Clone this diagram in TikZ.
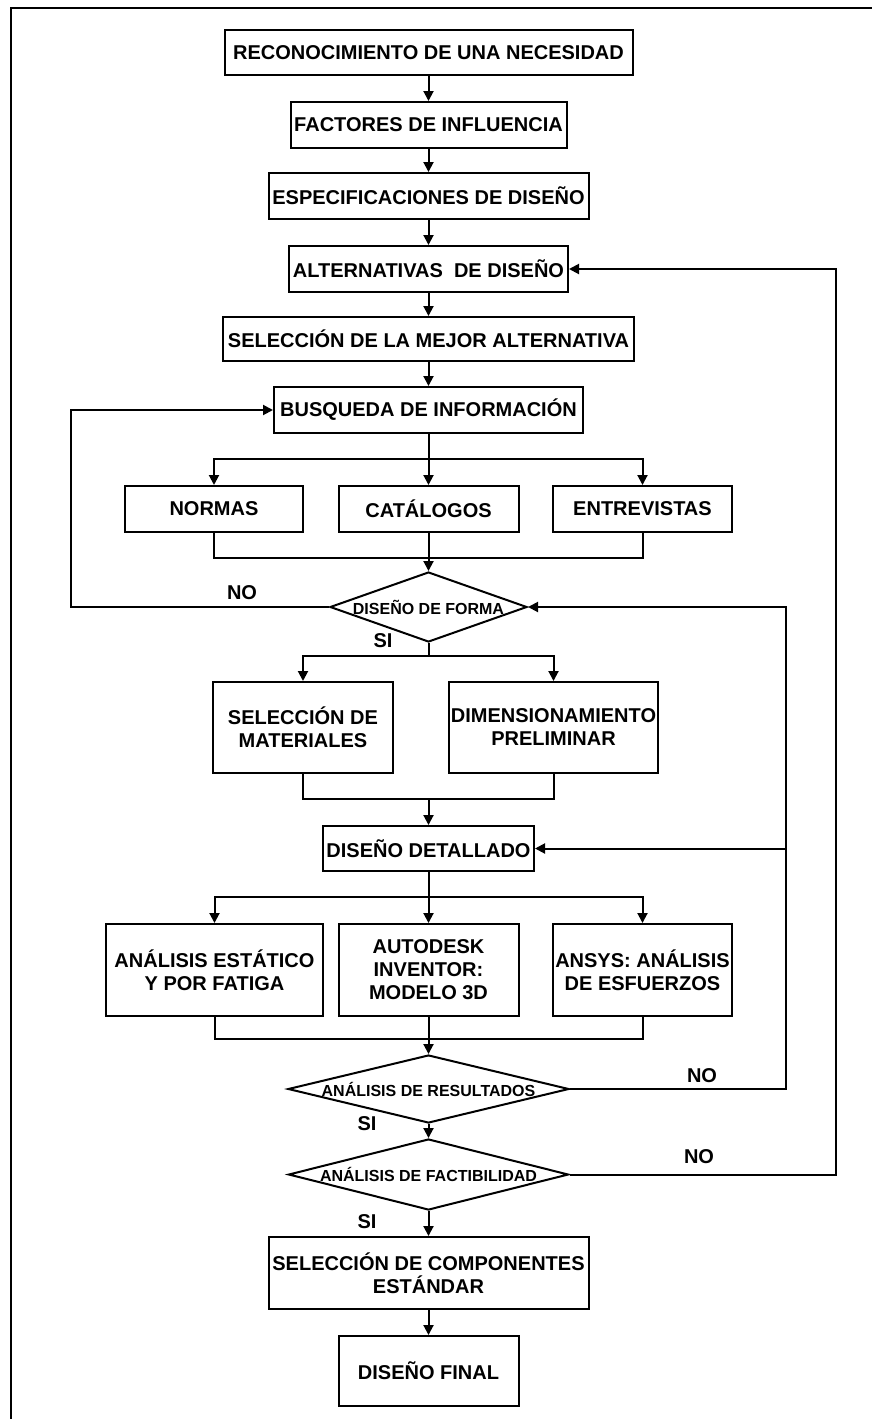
\documentclass[tikz,border=0pt]{standalone}
\usepackage{fontspec}
\setmainfont{Liberation Sans}
\usetikzlibrary{arrows.meta,shapes.geometric}
\begin{document}
\begin{tikzpicture}[x=0.5pt,y=-0.5pt,
  box/.style={draw, line width=1pt, inner sep=0pt, align=center, font=\bfseries\fontsize{10}{11.5}\selectfont},
  dia/.style={draw, diamond, line width=1pt, inner sep=0pt, font=\bfseries\fontsize{8}{9}\selectfont},
  lbl/.style={inner sep=0pt, font=\bfseries\fontsize{10}{11.5}\selectfont},
  arr/.style={line width=1pt, -{Triangle[length=5pt,width=5pt]}},
  ln/.style={line width=1pt}]
\useasboundingbox (0,0) rectangle (872,1419);
% frame
\draw[line width=1.3pt] (11,1419) -- (11,8) -- (872,8);
% main column
\node[box, minimum width=204pt, minimum height=22.5pt] (rec) at (428.5,52.5) {RECONOCIMIENTO DE UNA NECESIDAD};
\node[box, minimum width=138pt, minimum height=23pt] (fact) at (428.5,125) {FACTORES DE INFLUENCIA};
\node[box, minimum width=160pt, minimum height=23pt] (esp) at (428.5,196) {ESPECIFICACIONES DE DISEÑO};
\node[box, minimum width=139.5pt, minimum height=23pt] (alt) at (428.5,269) {ALTERNATIVAS\ \ DE DISEÑO};
\node[box, minimum width=205.5pt, minimum height=22pt] (sel) at (428.5,339) {SELECCIÓN DE LA MEJOR ALTERNATIVA};
\node[box, minimum width=154.5pt, minimum height=23pt] (busq) at (428.5,410) {BUSQUEDA DE INFORMACIÓN};
\node[box, minimum width=89pt, minimum height=23pt] (normas) at (214,509) {NORMAS};
\node[box, minimum width=90pt, minimum height=23pt] (cat) at (428.5,509) {CATÁLOGOS};
\node[box, minimum width=89.5pt, minimum height=23pt] (entre) at (642.5,509) {ENTREVISTAS};
\node[dia, aspect=2.81, minimum width=98.5pt, minimum height=35pt] (forma) at (428.5,607) {DISEÑO DE FORMA};
\node[box, minimum width=90pt, minimum height=45.5pt] (selmat) at (303,727.5) {SELECCIÓN DE\\MATERIALES};
\node[box, minimum width=104.5pt, minimum height=45.5pt] (dim) at (553.5,727.5) {DIMENSIONAMIENTO\\PRELIMINAR};
\node[box, minimum width=105.5pt, minimum height=22.5pt] (detall) at (428.5,848.5) {DISEÑO DETALLADO};
\node[box, minimum width=108.5pt, minimum height=46pt] (estat) at (214.5,970) {ANÁLISIS ESTÁTICO\\Y POR FATIGA};
\node[box, minimum width=90pt, minimum height=46pt] (auto) at (428.5,970) {AUTODESK\\INVENTOR:\\MODELO 3D};
\node[box, minimum width=89.5pt, minimum height=46pt] (ansys) at (642.5,970) {ANSYS: ANÁLISIS\\DE ESFUERZOS};
\node[dia, aspect=4.13, minimum width=140.5pt, minimum height=34pt] (result) at (428.5,1089) {ANÁLISIS DE RESULTADOS};
\node[dia, aspect=3.94, minimum width=140pt, minimum height=35.5pt] (factib) at (428.5,1174.5) {ANÁLISIS DE FACTIBILIDAD};
\node[box, minimum width=160pt, minimum height=36pt] (comp) at (428.5,1273) {SELECCIÓN DE COMPONENTES\\ESTÁNDAR};
\node[box, minimum width=90pt, minimum height=35pt] (final) at (428.5,1371) {DISEÑO FINAL};
% labels
\node[lbl] (no1) at (242,593) {NO};
\node[lbl] (si1) at (383,641) {SI};
\node[lbl] (no2) at (702,1076) {NO};
\node[lbl] (si2) at (367,1124) {SI};
\node[lbl] (no3) at (699,1157) {NO};
\node[lbl] (si3) at (367,1222) {SI};
% helper coordinates
\coordinate (b1) at (428.5,459);
\coordinate (m1) at (428.5,558);
\coordinate (b2) at (428.5,656);
\coordinate (m2) at (428.5,799);
\coordinate (b3) at (428.5,897);
\coordinate (m3) at (428.5,1039);
\coordinate (fl) at (71,607);
\coordinate (fr) at (786,1089);
\coordinate (fr2) at (836,1174.5);
% main chain
\draw[arr] (rec) -- (fact);
\draw[arr] (fact) -- (esp);
\draw[arr] (esp) -- (alt);
\draw[arr] (alt) -- (sel);
\draw[arr] (sel) -- (busq);
% information branch
\draw[ln] (busq.south) -- (b1);
\draw[arr] (b1) -| (normas.north);
\draw[arr] (b1) -- (cat.north);
\draw[arr] (b1) -| (entre.north);
\draw[ln] (normas.south) |- (m1);
\draw[ln] (entre.south) |- (m1);
\draw[arr] (cat.south) -- (forma.north);
% form design branch
\draw[ln] (forma.south) -- (b2);
\draw[arr] (b2) -| (selmat.north);
\draw[arr] (b2) -| (dim.north);
\draw[ln] (selmat.south) |- (m2);
\draw[ln] (dim.south) |- (m2);
\draw[arr] (m2) -- (detall.north);
% detailed design branch
\draw[ln] (detall.south) -- (b3);
\draw[arr] (b3) -| (estat.north);
\draw[arr] (b3) -- (auto.north);
\draw[arr] (b3) -| (ansys.north);
\draw[ln] (estat.south) |- (m3);
\draw[ln] (ansys.south) |- (m3);
\draw[arr] (auto.south) -- (result.north);
\draw[arr] (result.south) -- (factib.north);
\draw[arr] (factib.south) -- (comp.north);
\draw[arr] (comp.south) -- (final.north);
% feedback loops
\draw[arr] (forma.west) -- (fl) |- (busq.west);
\draw[arr] (result.east) -- (fr) |- (forma.east);
\draw[arr] (fr |- detall.east) -- (detall.east);
\draw[arr] (factib.east) -- (fr2) |- (alt.east);
\end{tikzpicture}
\end{document}
